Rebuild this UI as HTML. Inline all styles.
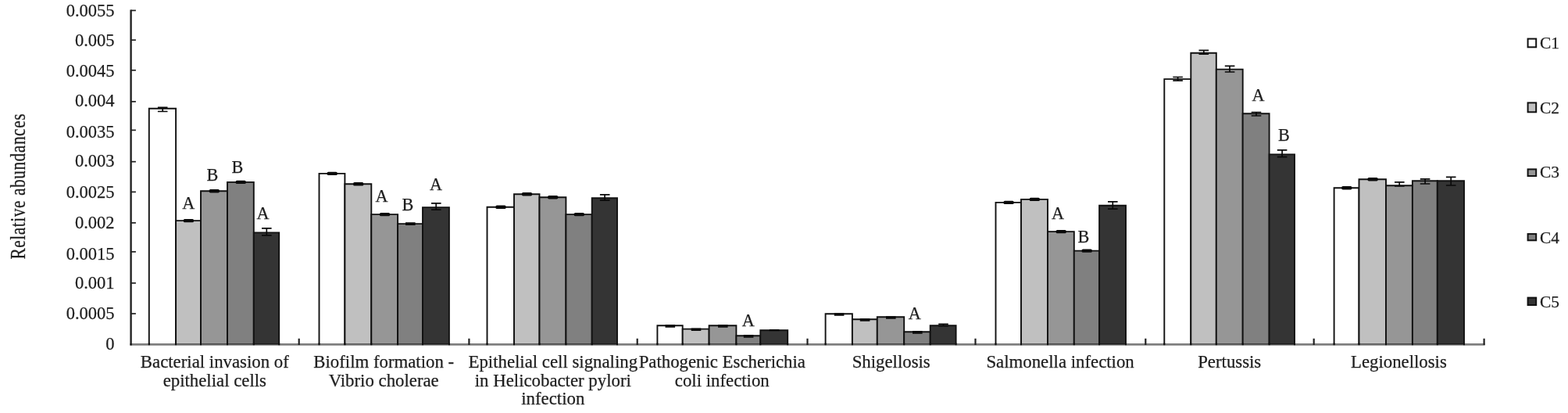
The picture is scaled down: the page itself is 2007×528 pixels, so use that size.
<!DOCTYPE html>
<html><head><meta charset="utf-8"><title>Relative abundances</title>
<style>
html,body{margin:0;padding:0;background:#fff;}
body{width:2007px;height:528px;overflow:hidden;}
svg{display:block;}
text{font-family:"Liberation Serif","Times New Roman",serif;font-size:22.8px;fill:#1e1e1e;stroke:#1e1e1e;stroke-width:0.25px;}
</style></head><body>
<svg width="2007" height="528" viewBox="0 0 2007 528">
<rect width="2007" height="528" fill="#fff"/>
<g>

<path d="M190.8 440.4V138.7H225.1V440.4" fill="#ffffff" stroke="#111" stroke-width="1.9"/>
<path d="M225.1 440.4V282.1H257.0V440.4" fill="#c0c0c0" stroke="#111" stroke-width="1.9"/>
<path d="M257.0 440.4V244.2H291.0V440.4" fill="#969696" stroke="#111" stroke-width="1.9"/>
<path d="M291.0 440.4V232.9H324.8V440.4" fill="#808080" stroke="#111" stroke-width="1.9"/>
<path d="M324.8 440.4V297.4H357.2V440.4" fill="#343434" stroke="#111" stroke-width="1.9"/>
<path d="M408.5 440.4V221.9H441.4V440.4" fill="#ffffff" stroke="#111" stroke-width="1.9"/>
<path d="M441.4 440.4V235.3H475.3V440.4" fill="#c0c0c0" stroke="#111" stroke-width="1.9"/>
<path d="M475.3 440.4V274.1H509.1V440.4" fill="#969696" stroke="#111" stroke-width="1.9"/>
<path d="M509.1 440.4V286.1H541.0V440.4" fill="#808080" stroke="#111" stroke-width="1.9"/>
<path d="M541.0 440.4V265.1H574.9V440.4" fill="#343434" stroke="#111" stroke-width="1.9"/>
<path d="M623.5 440.4V264.8H658.0V440.4" fill="#ffffff" stroke="#111" stroke-width="1.9"/>
<path d="M658.0 440.4V248.2H690.5V440.4" fill="#c0c0c0" stroke="#111" stroke-width="1.9"/>
<path d="M690.5 440.4V252.2H724.4V440.4" fill="#969696" stroke="#111" stroke-width="1.9"/>
<path d="M724.4 440.4V274.1H757.7V440.4" fill="#808080" stroke="#111" stroke-width="1.9"/>
<path d="M757.7 440.4V253.2H790.0V440.4" fill="#343434" stroke="#111" stroke-width="1.9"/>
<path d="M841.4 440.4V416.2H873.7V440.4" fill="#ffffff" stroke="#111" stroke-width="1.9"/>
<path d="M873.7 440.4V420.6H907.6V440.4" fill="#c0c0c0" stroke="#111" stroke-width="1.9"/>
<path d="M907.6 440.4V416.2H942.4V440.4" fill="#969696" stroke="#111" stroke-width="1.9"/>
<path d="M942.4 440.4V429.2H973.3V440.4" fill="#808080" stroke="#111" stroke-width="1.9"/>
<path d="M973.3 440.4V422.2H1008.2V440.4" fill="#343434" stroke="#111" stroke-width="1.9"/>
<path d="M1056.6 440.4V401.3H1090.9V440.4" fill="#ffffff" stroke="#111" stroke-width="1.9"/>
<path d="M1090.9 440.4V408.3H1122.8V440.4" fill="#c0c0c0" stroke="#111" stroke-width="1.9"/>
<path d="M1122.8 440.4V405.3H1157.2V440.4" fill="#969696" stroke="#111" stroke-width="1.9"/>
<path d="M1157.2 440.4V424.2H1190.7V440.4" fill="#808080" stroke="#111" stroke-width="1.9"/>
<path d="M1190.7 440.4V416.2H1223.6V440.4" fill="#343434" stroke="#111" stroke-width="1.9"/>
<path d="M1274.5 440.4V258.9H1307.0V440.4" fill="#ffffff" stroke="#111" stroke-width="1.9"/>
<path d="M1307.0 440.4V254.9H1341.0V440.4" fill="#c0c0c0" stroke="#111" stroke-width="1.9"/>
<path d="M1341.0 440.4V296.1H1374.8V440.4" fill="#969696" stroke="#111" stroke-width="1.9"/>
<path d="M1374.8 440.4V320.6H1407.1V440.4" fill="#808080" stroke="#111" stroke-width="1.9"/>
<path d="M1407.1 440.4V262.7H1441.0V440.4" fill="#343434" stroke="#111" stroke-width="1.9"/>
<path d="M1490.3 440.4V101.1H1524.3V440.4" fill="#ffffff" stroke="#111" stroke-width="1.9"/>
<path d="M1524.3 440.4V67.7H1556.8V440.4" fill="#c0c0c0" stroke="#111" stroke-width="1.9"/>
<path d="M1556.8 440.4V88.6H1590.7V440.4" fill="#969696" stroke="#111" stroke-width="1.9"/>
<path d="M1590.7 440.4V145.2H1624.6V440.4" fill="#808080" stroke="#111" stroke-width="1.9"/>
<path d="M1624.6 440.4V197.4H1657.0V440.4" fill="#343434" stroke="#111" stroke-width="1.9"/>
<path d="M1707.6 440.4V240.2H1739.5V440.4" fill="#ffffff" stroke="#111" stroke-width="1.9"/>
<path d="M1739.5 440.4V229.2H1774.0V440.4" fill="#c0c0c0" stroke="#111" stroke-width="1.9"/>
<path d="M1774.0 440.4V237.2H1807.9V440.4" fill="#969696" stroke="#111" stroke-width="1.9"/>
<path d="M1807.9 440.4V231.2H1839.8V440.4" fill="#808080" stroke="#111" stroke-width="1.9"/>
<path d="M1839.8 440.4V231.2H1874.0V440.4" fill="#343434" stroke="#111" stroke-width="1.9"/>
<path d="M208.2 137.3V142.5M201.9 137.3h12.6M201.9 142.5h12.6" stroke="#0a0a0a" stroke-width="1.7" fill="none"/>
<rect x="234.8" y="279.9" width="13.2" height="4.4" rx="1.6" fill="#0a0a0a"/>
<rect x="267.7" y="242.0" width="13.2" height="4.4" rx="1.6" fill="#0a0a0a"/>
<rect x="301.6" y="230.7" width="13.2" height="4.4" rx="1.6" fill="#0a0a0a"/>
<path d="M341.3 291.8V300.9M335.0 291.8h12.6M335.0 300.9h12.6" stroke="#0a0a0a" stroke-width="1.7" fill="none"/>
<rect x="418.6" y="219.7" width="13.2" height="4.4" rx="1.6" fill="#0a0a0a"/>
<rect x="452.1" y="233.1" width="13.2" height="4.4" rx="1.6" fill="#0a0a0a"/>
<rect x="485.9" y="271.9" width="13.2" height="4.4" rx="1.6" fill="#0a0a0a"/>
<path d="M525.3 285.1V287.1M519.0 285.1h12.6M519.0 287.1h12.6" stroke="#0a0a0a" stroke-width="1.7" fill="none"/>
<path d="M558.2 259.9V268.1M552.0 259.9h12.6M552.0 268.1h12.6" stroke="#0a0a0a" stroke-width="1.7" fill="none"/>
<rect x="634.4" y="262.6" width="13.2" height="4.4" rx="1.6" fill="#0a0a0a"/>
<rect x="667.9" y="246.0" width="13.2" height="4.4" rx="1.6" fill="#0a0a0a"/>
<rect x="701.1" y="250.0" width="13.2" height="4.4" rx="1.6" fill="#0a0a0a"/>
<rect x="734.7" y="271.9" width="13.2" height="4.4" rx="1.6" fill="#0a0a0a"/>
<path d="M774.1 248.8V256.2M767.9 248.8h12.6M767.9 256.2h12.6" stroke="#0a0a0a" stroke-width="1.7" fill="none"/>
<path d="M857.8 415.9V417.8M851.5 415.9h12.6M851.5 417.8h12.6" stroke="#0a0a0a" stroke-width="1.7" fill="none"/>
<path d="M891.0 420.3V422.2M884.7 420.3h12.6M884.7 422.2h12.6" stroke="#0a0a0a" stroke-width="1.7" fill="none"/>
<path d="M925.3 415.9V417.8M919.0 415.9h12.6M919.0 417.8h12.6" stroke="#0a0a0a" stroke-width="1.7" fill="none"/>
<path d="M958.1 428.9V430.8M951.8 428.9h12.6M951.8 430.8h12.6" stroke="#0a0a0a" stroke-width="1.7" fill="none"/>
<path d="M991.0 421.9V422.5M984.8 421.9h12.6M984.8 422.5h12.6" stroke="#0a0a0a" stroke-width="1.7" fill="none"/>
<path d="M1074.0 401.0V402.9M1067.8 401.0h12.6M1067.8 402.9h12.6" stroke="#0a0a0a" stroke-width="1.7" fill="none"/>
<path d="M1107.1 408.0V409.9M1100.8 408.0h12.6M1100.8 409.9h12.6" stroke="#0a0a0a" stroke-width="1.7" fill="none"/>
<path d="M1140.3 405.0V406.9M1134.0 405.0h12.6M1134.0 406.9h12.6" stroke="#0a0a0a" stroke-width="1.7" fill="none"/>
<path d="M1174.2 423.9V425.8M1168.0 423.9h12.6M1168.0 425.8h12.6" stroke="#0a0a0a" stroke-width="1.7" fill="none"/>
<path d="M1207.5 414.4V416.7M1201.2 414.4h12.6M1201.2 416.7h12.6" stroke="#0a0a0a" stroke-width="1.7" fill="none"/>
<rect x="1284.5" y="256.7" width="13.2" height="4.4" rx="1.6" fill="#0a0a0a"/>
<rect x="1317.7" y="252.7" width="13.2" height="4.4" rx="1.6" fill="#0a0a0a"/>
<rect x="1351.6" y="293.9" width="13.2" height="4.4" rx="1.6" fill="#0a0a0a"/>
<rect x="1384.6" y="318.4" width="13.2" height="4.4" rx="1.6" fill="#0a0a0a"/>
<path d="M1424.3 257.9V267.1M1418.0 257.9h12.6M1418.0 267.1h12.6" stroke="#0a0a0a" stroke-width="1.7" fill="none"/>
<path d="M1507.6 98.5V103.1M1501.3 98.5h12.6M1501.3 103.1h12.6" stroke="#0a0a0a" stroke-width="1.7" fill="none"/>
<path d="M1540.8 64.4V69.2M1534.5 64.4h12.6M1534.5 69.2h12.6" stroke="#0a0a0a" stroke-width="1.7" fill="none"/>
<path d="M1574.0 84.3V92.0M1567.8 84.3h12.6M1567.8 92.0h12.6" stroke="#0a0a0a" stroke-width="1.7" fill="none"/>
<path d="M1608.0 143.5V148.0M1601.7 143.5h12.6M1601.7 148.0h12.6" stroke="#0a0a0a" stroke-width="1.7" fill="none"/>
<path d="M1641.1 191.8V200.6M1634.8 191.8h12.6M1634.8 200.6h12.6" stroke="#0a0a0a" stroke-width="1.7" fill="none"/>
<rect x="1717.2" y="238.0" width="13.2" height="4.4" rx="1.6" fill="#0a0a0a"/>
<rect x="1750.5" y="227.0" width="13.2" height="4.4" rx="1.6" fill="#0a0a0a"/>
<path d="M1791.2 232.9V238.0M1785.0 232.9h12.6M1785.0 238.0h12.6" stroke="#0a0a0a" stroke-width="1.7" fill="none"/>
<path d="M1824.1 228.9V235.0M1817.8 228.9h12.6M1817.8 235.0h12.6" stroke="#0a0a0a" stroke-width="1.7" fill="none"/>
<path d="M1857.2 226.3V237.0M1850.9 226.3h12.6M1850.9 237.0h12.6" stroke="#0a0a0a" stroke-width="1.7" fill="none"/>
<line x1="167.6" y1="12.5" x2="167.6" y2="441.4" stroke="#222" stroke-width="2.4"/>
<text x="146.6" y="446.8" text-anchor="end" style="font-size:22.5px">0</text>
<line x1="167.6" y1="401.0" x2="173.9" y2="401.0" stroke="#222" stroke-width="1.7"/>
<text x="146.6" y="408.0" text-anchor="end" style="font-size:22.5px">0.0005</text>
<line x1="167.6" y1="361.9" x2="173.9" y2="361.9" stroke="#222" stroke-width="1.7"/>
<text x="146.6" y="368.9" text-anchor="end" style="font-size:22.5px">0.001</text>
<line x1="167.6" y1="321.9" x2="173.9" y2="321.9" stroke="#222" stroke-width="1.7"/>
<text x="146.6" y="331.9" text-anchor="end" style="font-size:22.5px">0.0015</text>
<line x1="167.6" y1="284.9" x2="173.9" y2="284.9" stroke="#222" stroke-width="1.7"/>
<text x="146.6" y="291.9" text-anchor="end" style="font-size:22.5px">0.002</text>
<line x1="167.6" y1="245.4" x2="173.9" y2="245.4" stroke="#222" stroke-width="1.7"/>
<text x="146.6" y="253.4" text-anchor="end" style="font-size:22.5px">0.0025</text>
<line x1="167.6" y1="206.7" x2="173.9" y2="206.7" stroke="#222" stroke-width="1.7"/>
<text x="146.6" y="213.4" text-anchor="end" style="font-size:22.5px">0.003</text>
<line x1="167.6" y1="166.4" x2="173.9" y2="166.4" stroke="#222" stroke-width="1.7"/>
<text x="146.6" y="176.4" text-anchor="end" style="font-size:22.5px">0.0035</text>
<line x1="167.6" y1="129.9" x2="173.9" y2="129.9" stroke="#222" stroke-width="1.7"/>
<text x="146.6" y="136.4" text-anchor="end" style="font-size:22.5px">0.004</text>
<line x1="167.6" y1="89.8" x2="173.9" y2="89.8" stroke="#222" stroke-width="1.7"/>
<text x="146.6" y="98.0" text-anchor="end" style="font-size:22.5px">0.0045</text>
<line x1="167.6" y1="51.2" x2="173.9" y2="51.2" stroke="#222" stroke-width="1.7"/>
<text x="146.6" y="59.4" text-anchor="end" style="font-size:22.5px">0.005</text>
<line x1="167.6" y1="13.4" x2="173.9" y2="13.4" stroke="#222" stroke-width="1.7"/>
<text x="146.6" y="20.9" text-anchor="end" style="font-size:22.5px">0.0055</text>
<line x1="166.4" y1="440.4" x2="1900.7" y2="440.4" stroke="#000" stroke-opacity="0.5" stroke-width="2.8"/>
<line x1="382.7" y1="441.0" x2="382.7" y2="432.8" stroke="#222" stroke-width="2.2"/>
<line x1="600.4" y1="441.0" x2="600.4" y2="432.8" stroke="#222" stroke-width="2.2"/>
<line x1="815.7" y1="441.0" x2="815.7" y2="432.8" stroke="#222" stroke-width="2.2"/>
<line x1="1033.5" y1="441.0" x2="1033.5" y2="432.8" stroke="#222" stroke-width="2.2"/>
<line x1="1248.5" y1="441.0" x2="1248.5" y2="432.8" stroke="#222" stroke-width="2.2"/>
<line x1="1466.3" y1="441.0" x2="1466.3" y2="432.8" stroke="#222" stroke-width="2.2"/>
<line x1="1681.7" y1="441.0" x2="1681.7" y2="432.8" stroke="#222" stroke-width="2.2"/>
<line x1="1899.6" y1="441.0" x2="1899.6" y2="432.8" stroke="#222" stroke-width="2.2"/>
<path d="M190.8 438.4V441.2M225.1 438.4V441.2M257.0 438.4V441.2M291.0 438.4V441.2M324.8 438.4V441.2M357.2 438.4V441.2M408.5 438.4V441.2M441.4 438.4V441.2M475.3 438.4V441.2M509.1 438.4V441.2M541.0 438.4V441.2M574.9 438.4V441.2M623.5 438.4V441.2M658.0 438.4V441.2M690.5 438.4V441.2M724.4 438.4V441.2M757.7 438.4V441.2M790.0 438.4V441.2M841.4 438.4V441.2M873.7 438.4V441.2M907.6 438.4V441.2M942.4 438.4V441.2M973.3 438.4V441.2M1008.2 438.4V441.2M1056.6 438.4V441.2M1090.9 438.4V441.2M1122.8 438.4V441.2M1157.2 438.4V441.2M1190.7 438.4V441.2M1223.6 438.4V441.2M1274.5 438.4V441.2M1307.0 438.4V441.2M1341.0 438.4V441.2M1374.8 438.4V441.2M1407.1 438.4V441.2M1441.0 438.4V441.2M1490.3 438.4V441.2M1524.3 438.4V441.2M1556.8 438.4V441.2M1590.7 438.4V441.2M1624.6 438.4V441.2M1657.0 438.4V441.2M1707.6 438.4V441.2M1739.5 438.4V441.2M1774.0 438.4V441.2M1807.9 438.4V441.2M1839.8 438.4V441.2M1874.0 438.4V441.2" stroke="#111" stroke-width="1.9" fill="none"/>
<text x="241.2" y="266.8" text-anchor="middle" style="font-size:22.2px">A</text>
<text x="272.0" y="230.9" text-anchor="middle" style="font-size:22.2px">B</text>
<text x="303.9" y="220.9" text-anchor="middle" style="font-size:22.2px">B</text>
<text x="336.4" y="280.3" text-anchor="middle" style="font-size:22.2px">A</text>
<text x="488.6" y="257.8" text-anchor="middle" style="font-size:22.2px">A</text>
<text x="521.9" y="268.8" text-anchor="middle" style="font-size:22.2px">B</text>
<text x="558.0" y="242.8" text-anchor="middle" style="font-size:22.2px">A</text>
<text x="957.8" y="416.8" text-anchor="middle" style="font-size:22.2px">A</text>
<text x="1170.8" y="407.9" text-anchor="middle" style="font-size:22.2px">A</text>
<text x="1353.9" y="279.8" text-anchor="middle" style="font-size:22.2px">A</text>
<text x="1386.9" y="309.7" text-anchor="middle" style="font-size:22.2px">B</text>
<text x="1610.6" y="128.9" text-anchor="middle" style="font-size:22.2px">A</text>
<text x="1643.5" y="180.3" text-anchor="middle" style="font-size:22.2px">B</text>
<text x="274.8" y="470.4" text-anchor="middle">Bacterial invasion of</text>
<text x="274.8" y="493.7" text-anchor="middle">epithelial cells</text>
<text x="491.2" y="470.4" text-anchor="middle">Biofilm formation -</text>
<text x="491.2" y="493.7" text-anchor="middle">Vibrio cholerae</text>
<text x="707.8" y="470.4" text-anchor="middle">Epithelial cell signaling</text>
<text x="707.8" y="493.7" text-anchor="middle">in Helicobacter pylori</text>
<text x="707.8" y="517.0" text-anchor="middle">infection</text>
<text x="924.3" y="470.4" text-anchor="middle">Pathogenic Escherichia</text>
<text x="924.3" y="493.7" text-anchor="middle">coli infection</text>
<text x="1140.7" y="470.4" text-anchor="middle">Shigellosis</text>
<text x="1357.1" y="470.4" text-anchor="middle">Salmonella infection</text>
<text x="1573.7" y="470.4" text-anchor="middle">Pertussis</text>
<text x="1790.4" y="470.4" text-anchor="middle">Legionellosis</text>
<text transform="translate(31.6 238.5) rotate(-90) scale(0.93 1.17)" text-anchor="middle" textLength="200" lengthAdjust="spacing" style="font-size:23px">Relative abundances</text>
<rect x="1955.6" y="49.6" width="10.6" height="10.7" fill="#ffffff" stroke="#111" stroke-width="2"/>
<text x="1971" y="61.6" style="font-size:21.4px">C1</text>
<rect x="1955.6" y="131.4" width="10.6" height="11.9" fill="#c0c0c0" stroke="#111" stroke-width="2"/>
<text x="1971" y="144.8" style="font-size:21.4px">C2</text>
<rect x="1955.6" y="216.4" width="10.6" height="8.6" fill="#969696" stroke="#111" stroke-width="2"/>
<text x="1971" y="227.3" style="font-size:21.4px">C3</text>
<rect x="1955.6" y="299.1" width="10.6" height="8.2" fill="#808080" stroke="#111" stroke-width="2"/>
<text x="1971" y="310.6" style="font-size:21.4px">C4</text>
<rect x="1955.6" y="380.6" width="10.6" height="9.4" fill="#343434" stroke="#111" stroke-width="2"/>
<text x="1971" y="393.3" style="font-size:21.4px">C5</text>
</g></svg></body></html>
